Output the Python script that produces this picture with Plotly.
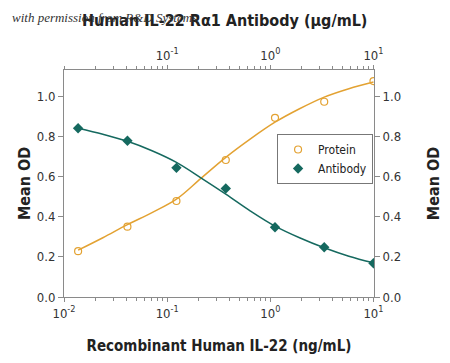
import plotly.graph_objects as go

# Data
conc = [0.0137, 0.0412, 0.123, 0.370, 1.11, 3.33, 10.0]
protein_od = [0.228, 0.350, 0.478, 0.682, 0.892, 0.972, 1.075]
antibody_od = [0.840, 0.778, 0.643, 0.540, 0.347, 0.248, 0.168]

curve_x = [0.0137, 0.0238, 0.0412, 0.0713, 0.123, 0.214, 0.370, 0.642, 1.11, 1.92, 3.33, 5.77, 10.0]
protein_fit = [0.233, 0.295, 0.360, 0.420, 0.487, 0.592, 0.695, 0.787, 0.870, 0.937, 0.995, 1.037, 1.070]
antibody_fit = [0.840, 0.810, 0.775, 0.728, 0.670, 0.592, 0.512, 0.428, 0.353, 0.295, 0.245, 0.203, 0.170]

y_ticks = [0.0, 0.2, 0.4, 0.6, 0.8, 1.0]
x_ticks = [0.01, 0.1, 1, 10]
x_ticktext = ["10<sup>-2</sup>", "10<sup>-1</sup>", "10<sup>0</sup>", "10<sup>1</sup>"]
top_ticks = [0.1, 1, 10]
top_ticktext = ["10<sup>-1</sup>", "10<sup>0</sup>", "10<sup>1</sup>"]

ORANGE = "#E3A232"
TEAL = "#15695F"
AX = "#8a8a8a"
FONT = "DejaVu Sans Condensed, Liberation Sans Narrow, Roboto, sans-serif"

fig = go.Figure()
fig.add_trace(go.Scatter(x=curve_x, y=protein_fit, mode="lines", line=dict(color=ORANGE, width=1.5, shape="spline"),
                         showlegend=False, hoverinfo="skip"))
fig.add_trace(go.Scatter(x=curve_x, y=antibody_fit, mode="lines", line=dict(color=TEAL, width=1.5, shape="spline"),
                         showlegend=False, hoverinfo="skip"))
fig.add_trace(go.Scatter(x=conc, y=protein_od, mode="markers", name="Protein",
                         marker=dict(symbol="circle-open", size=7, color=ORANGE, line=dict(width=1.2, color=ORANGE))))
fig.add_trace(go.Scatter(x=conc, y=antibody_od, mode="markers", name="Antibody",
                         marker=dict(symbol="diamond", size=8, color=TEAL)))
# invisible trace to anchor secondary axes
fig.add_trace(go.Scatter(x=conc, y=protein_od, xaxis="x2", yaxis="y2", mode="markers",
                         marker=dict(opacity=0), showlegend=False, hoverinfo="skip"))

minor = dict(ticks="outside", ticklen=3, tickcolor=AX, dtick="D1", showgrid=False)

fig.update_layout(
    width=442, height=355,
    margin=dict(l=56, r=76, t=62, b=66),
    paper_bgcolor="white", plot_bgcolor="white",
    font=dict(family=FONT, size=13, color="#222"),
    showlegend=True,
    legend=dict(x=0.997, y=0.718, xanchor="right", yanchor="top", bordercolor="#777", borderwidth=1,
                bgcolor="white", font=dict(size=12, color="#222"), itemwidth=30, tracegroupgap=0),
    xaxis=dict(type="log", range=[-2, 1.005], tickmode="array", tickvals=x_ticks, ticktext=x_ticktext,
               ticks="outside", ticklen=4, tickcolor=AX, showline=True, linecolor=AX, linewidth=1,
               showgrid=False, zeroline=False, minor=minor, automargin=False,
               title=dict(text="<b>Recombinant Human IL-22 (ng/mL)</b>", font=dict(size=15), standoff=20),
               tickfont=dict(size=13, color="#333")),
    xaxis2=dict(type="log", range=[-2, 1.005], overlaying="x", side="top", anchor="y", tickmode="array",
                tickvals=top_ticks, ticktext=top_ticktext, ticks="outside", ticklen=4, tickcolor=AX,
                showline=True, linecolor=AX, linewidth=1, showgrid=False, zeroline=False, minor=minor,
                automargin=False, tickfont=dict(size=13, color="#333")),
    yaxis=dict(range=[0, 1.13], tickvals=y_ticks, tickformat=".1f", ticks="outside", ticklen=5, tickcolor=AX,
               showline=True, linecolor=AX, linewidth=1, showgrid=False, zeroline=False, automargin=False,
               title=dict(text="<b>Mean OD</b>", font=dict(size=16), standoff=2),
               tickfont=dict(size=13, color="#333")),
    yaxis2=dict(range=[0, 1.13], overlaying="y", side="right", anchor="x", tickvals=y_ticks, tickformat=".1f",
                ticks="outside", ticklen=5, tickcolor=AX, showline=True, linecolor=AX, linewidth=1,
                showgrid=False, zeroline=False, automargin=False,
                title=dict(text="<b>Mean OD</b>", font=dict(size=16), standoff=27),
                tickfont=dict(size=13, color="#333")),
)

fig.add_annotation(text="<b>Human IL-22 R\u03b11 Antibody (\u00b5g/mL)</b>", xref="paper", yref="paper",
                   x=0.519, y=1.0, yshift=50, xanchor="center", yanchor="middle", showarrow=False,
                   font=dict(size=16, color="#222"))
fig.add_annotation(text="<i>with permission from R&D Systems</i>", xref="paper", yref="paper",
                   x=-0.174, y=1.0, yshift=53, xanchor="left", yanchor="middle", showarrow=False,
                   font=dict(family="Liberation Serif, DejaVu Serif, serif", size=13, color="#333"))

fig.write_html("out.html")
